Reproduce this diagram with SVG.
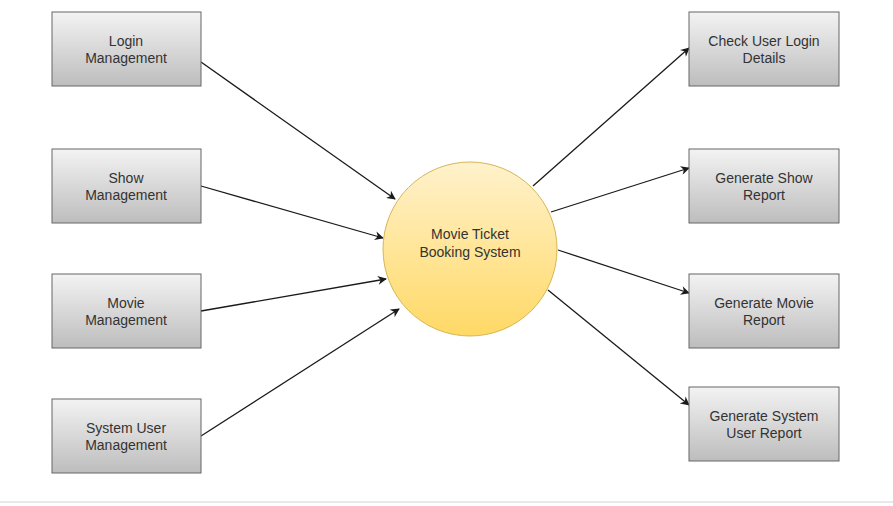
<svg xmlns="http://www.w3.org/2000/svg" width="893" height="506" viewBox="0 0 893 506">
<style>
.box{fill:url(#g);stroke:#666;stroke-width:1}
.t{font-family:"Liberation Sans",Arial,sans-serif;font-size:14px;fill:#333;text-anchor:middle}
.c{stroke:#1a1a1a;stroke-width:1.3;fill:none;marker-end:url(#a)}
</style>
<defs>
<linearGradient id="g" x1="0" y1="0" x2="0" y2="1"><stop offset="0" stop-color="#f3f3f3"/><stop offset="1" stop-color="#bdbdbd"/></linearGradient>
<linearGradient id="y" x1="0" y1="0" x2="0" y2="1"><stop offset="0" stop-color="#fff2cc"/><stop offset="1" stop-color="#ffd966"/></linearGradient>
<marker id="a" viewBox="0 0 10 10" refX="9" refY="5" markerWidth="10" markerHeight="9" markerUnits="userSpaceOnUse" orient="auto"><path d="M0,0 L10,5 L0,10 L3,5 Z" fill="#1a1a1a"/></marker>
</defs>
<rect width="893" height="506" fill="#fff"/>
<line x1="0" y1="502" x2="893" y2="502" stroke="#cdd5dc" stroke-width="1"/>
<g id="connectors">
<line class="c" x1="201" y1="62" x2="395" y2="199"/>
<line class="c" x1="201" y1="186" x2="383" y2="238"/>
<line class="c" x1="201" y1="311" x2="386" y2="279"/>
<line class="c" x1="201" y1="436" x2="399" y2="309"/>
<line class="c" x1="533" y1="186" x2="689" y2="48"/>
<line class="c" x1="551" y1="212" x2="689" y2="168"/>
<line class="c" x1="558" y1="250" x2="689" y2="293"/>
<line class="c" x1="548" y1="290" x2="689" y2="405"/>
</g>
<g id="center"><circle cx="470" cy="249" r="87" fill="url(#y)" stroke="#d6b656" stroke-width="1"/>
<text class="t" x="470" y="239">Movie Ticket</text><text class="t" x="470" y="257">Booking System</text></g>
<g id="login"><rect class="box" x="52" y="12" width="149" height="74"/><text class="t" x="126" y="46">Login</text><text class="t" x="126" y="63">Management</text></g>
<g id="show"><rect class="box" x="52" y="149" width="149" height="74"/><text class="t" x="126" y="183">Show</text><text class="t" x="126" y="200">Management</text></g>
<g id="movie"><rect class="box" x="52" y="274" width="149" height="74"/><text class="t" x="126" y="308">Movie</text><text class="t" x="126" y="325">Management</text></g>
<g id="sysuser"><rect class="box" x="52" y="399" width="149" height="74"/><text class="t" x="126" y="433">System User</text><text class="t" x="126" y="450">Management</text></g>
<g id="checklogin"><rect class="box" x="689" y="12" width="150" height="74"/><text class="t" x="764" y="46">Check User Login</text><text class="t" x="764" y="63">Details</text></g>
<g id="showreport"><rect class="box" x="689" y="149" width="150" height="74"/><text class="t" x="764" y="183">Generate Show</text><text class="t" x="764" y="200">Report</text></g>
<g id="moviereport"><rect class="box" x="689" y="274" width="150" height="74"/><text class="t" x="764" y="308">Generate Movie</text><text class="t" x="764" y="325">Report</text></g>
<g id="userreport"><rect class="box" x="689" y="387" width="150" height="74"/><text class="t" x="764" y="421">Generate System</text><text class="t" x="764" y="438">User Report</text></g>
</svg>
